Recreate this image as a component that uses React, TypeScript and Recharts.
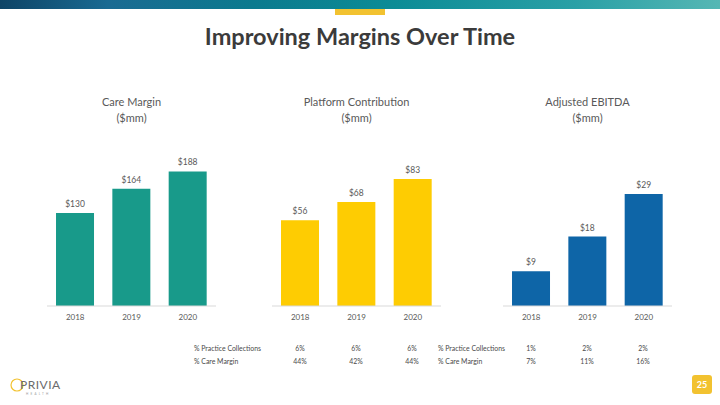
import React from 'react';
import { BarChart, Bar, XAxis, YAxis, LabelList } from 'recharts';

const years = ['2018', '2019', '2020'];
const careMargin = [130, 164, 188];
const platformContribution = [56, 68, 83];
const adjustedEbitda = [9, 18, 29];

const platformCollectionsPct = ['6%', '6%', '6%'];
const platformCareMarginPct = ['44%', '42%', '44%'];
const ebitdaCollectionsPct = ['1%', '2%', '2%'];
const ebitdaCareMarginPct = ['7%', '11%', '16%'];

const FONT = 'Lato, "Open Sans", sans-serif';
const GREY = '#595959';

interface MetricChartProps {
  title: string;
  values: number[];
  color: string;
  domainMax: number;
  left: number;
}

// one small bar chart; the plot runs from y=140 down to the baseline at y=306
function MetricChart({ title, values, color, domainMax, left }: MetricChartProps) {
  const chartData = years.map((year, i) => ({ name: year, value: values[i] }));
  const width = 169;

  return (
    <>
      <div
        style={{
          position: 'absolute',
          left: left - 20,
          top: 94,
          width: width + 40,
          textAlign: 'center',
          fontFamily: FONT,
          fontSize: 11,
          lineHeight: '16px',
          color: GREY,
        }}
      >
        <div>{title}</div>
        <div>($mm)</div>
      </div>
      <div style={{ position: 'absolute', left, top: 130 }}>
        <BarChart
          width={width}
          height={200}
          data={chartData}
          margin={{ top: 10, right: 0, left: 0, bottom: 0 }}
          barCategoryGap="16%"
        >
          <XAxis
            dataKey="name"
            height={24}
            axisLine={{ stroke: '#d9d9d9' }}
            tickLine={false}
            tick={{ fill: GREY, fontSize: 8, fontFamily: FONT }}
          />
          <YAxis hide domain={[0, domainMax]} />
          <Bar dataKey="value" fill={color} isAnimationActive={false}>
            <LabelList
              dataKey="value"
              position="top"
              offset={6}
              formatter={(v: number) => `$${v}`}
              style={{ fill: GREY, fontSize: 8.5, fontFamily: FONT }}
            />
          </Bar>
        </BarChart>
      </div>
    </>
  );
}

function TableRow({ y, labelX, label, values, centers }: { y: number; labelX: number; label: string; values: string[]; centers: number[] }) {
  const text = { position: 'absolute' as const, top: y, fontFamily: FONT, fontSize: 6.9, color: '#4a4a4a', lineHeight: '8px', whiteSpace: 'nowrap' as const };
  return (
    <>
      <div style={{ ...text, left: labelX }}>{label}</div>
      {values.map((v, i) => (
        <div key={i} style={{ ...text, left: centers[i] - 20, width: 40, textAlign: 'center' }}>{v}</div>
      ))}
    </>
  );
}

export default function App() {
  const platformCenters = [300, 356, 412];
  const ebitdaCenters = [531, 587, 643];

  return (
    <div style={{ position: 'absolute', left: 0, top: 0, width: 720, height: 405, background: '#fff', overflow: 'hidden' }}>
      {/* header band */}
      <div
        style={{
          position: 'absolute',
          left: 0,
          top: 0,
          width: 720,
          height: 9,
          background: 'linear-gradient(90deg, #0e4466 0%, #1a6a92 15%, #0b7a8e 35%, #0c8c96 55%, #2aa0a6 80%, #55b7b4 100%)',
        }}
      />
      <div style={{ position: 'absolute', left: 335, top: 9, width: 50, height: 6, background: '#f2c230' }} />
      <div
        style={{
          position: 'absolute',
          left: 0,
          top: 22,
          width: 720,
          textAlign: 'center',
          fontFamily: FONT,
          fontWeight: 700,
          fontSize: 23.5,
          color: '#3b3b3b',
        }}
      >
        Improving Margins Over Time
      </div>

      <MetricChart title="Care Margin" values={careMargin} color="#189a8a" domainMax={232} left={47} />
      <MetricChart title="Platform Contribution" values={platformContribution} color="#fecc02" domainMax={108.5} left={272} />
      <MetricChart title="Adjusted EBITDA" values={adjustedEbitda} color="#0e65a7" domainMax={43} left={503} />

      <TableRow y={344} labelX={194} label="% Practice Collections" values={platformCollectionsPct} centers={platformCenters} />
      <TableRow y={357} labelX={194} label="% Care Margin" values={platformCareMarginPct} centers={platformCenters} />
      <TableRow y={344} labelX={438} label="% Practice Collections" values={ebitdaCollectionsPct} centers={ebitdaCenters} />
      <TableRow y={357} labelX={438} label="% Care Margin" values={ebitdaCareMarginPct} centers={ebitdaCenters} />

      {/* logo */}
      <svg style={{ position: 'absolute', left: 0, top: 372 }} width={80} height={28}>
        <circle cx={17} cy={13} r={6} fill="none" stroke="#f2c230" strokeWidth={1.2} />
        <text x={20} y={17} fontFamily={FONT} fontSize={12} fill="#6b6b6b" letterSpacing={0.5}>PRIVIA</text>
        <text x={26} y={23} fontFamily={FONT} fontSize={3} fill="#9a9a9a" letterSpacing={2.2}>HEALTH</text>
      </svg>

      {/* page number */}
      <div
        style={{
          position: 'absolute',
          left: 692,
          top: 375,
          width: 20,
          height: 19,
          borderRadius: 3,
          background: '#f2c230',
          color: '#fff',
          fontFamily: FONT,
          fontWeight: 700,
          fontSize: 9,
          lineHeight: '19px',
          textAlign: 'center',
        }}
      >
        25
      </div>
    </div>
  );
}
